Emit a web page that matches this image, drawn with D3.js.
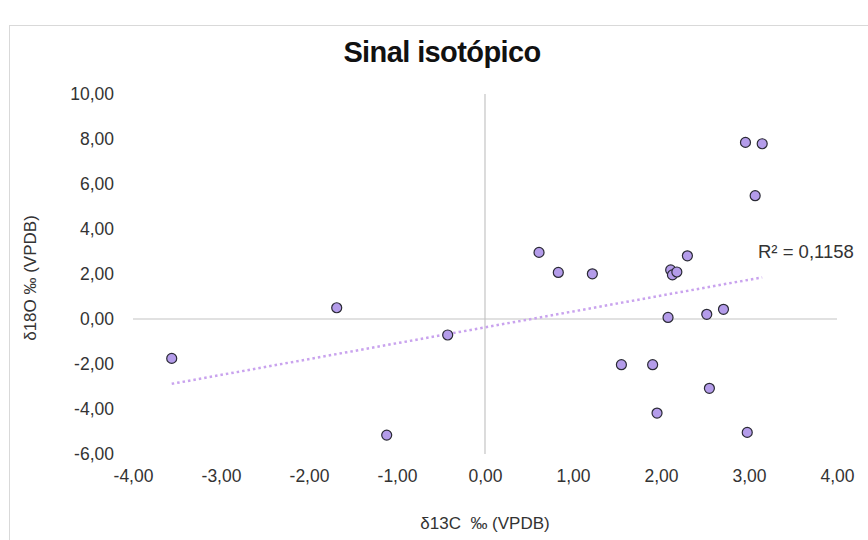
<!DOCTYPE html>
<html>
<head>
<meta charset="utf-8">
<script src="https://cdn.jsdelivr.net/npm/d3@7"></script>
<style>
  body { margin: 0; background: #fff; }
  text { font-family: "Liberation Sans", Arial, sans-serif; }
</style>
</head>
<body>
<div id="chart"></div>
<script>
// valores
const d13C = [-3.56, -1.685, -0.424, -1.117, 0.614, 0.833, 1.22, 2.30, 2.11, 2.13, 2.18,
  2.08, 2.52, 2.71, 1.55, 1.905, 2.55, 1.955, 2.98, 2.96, 3.15, 3.07];
const d18O = [-1.75, 0.50, -0.71, -5.16, 2.96, 2.07, 2.01, 2.81, 2.18, 1.96, 2.09,
  0.07, 0.21, 0.43, -2.03, -2.03, -3.08, -4.18, -5.04, 7.85, 7.79, 5.48];
const xTicks = [-4, -3, -2, -1, 0, 1, 2, 3, 4];
const yTicks = [-6, -4, -2, 0, 2, 4, 6, 8, 10];
const titulo = "Sinal isotópico";
const rLabel = "R² = 0,1158";

const width = 868, height = 540;
const svg = d3.select("#chart").append("svg")
  .attr("width", width).attr("height", height);

const pts = d13C.map((v, i) => ({ x: v, y: d18O[i] }));

const x = d3.scaleLinear().domain([-4, 4]).range([133, 837]);
const y = d3.scaleLinear().domain([-6, 10]).range([454, 94]);

const br = d3.formatLocale({ decimal: ",", thousands: ".", grouping: [3], currency: ["", ""], minus: "-" });
const fmt = br.format(".2f");

// moldura
svg.append("rect")
  .attr("x", 9.5).attr("y", 25.5)
  .attr("width", width + 20).attr("height", height + 20)
  .attr("fill", "none").attr("stroke", "#d9d9d9");

// titulo
svg.append("text")
  .attr("x", 442).attr("y", 62)
  .attr("text-anchor", "middle")
  .attr("font-size", 29).attr("font-weight", "bold")
  .attr("letter-spacing", -0.6)
  .attr("fill", "#111")
  .text(titulo);

// eixos (so rotulos)
const gy = svg.append("g")
  .attr("transform", `translate(${x.range()[0]},0)`)
  .call(d3.axisLeft(y).tickValues(yTicks).tickFormat(fmt).tickSize(0).tickPadding(19));
const gx = svg.append("g")
  .attr("transform", `translate(0,${y.range()[0]})`)
  .call(d3.axisBottom(x).tickValues(xTicks).tickFormat(fmt).tickSize(0).tickPadding(16));
[gx, gy].forEach(g => {
  g.select(".domain").remove();
  g.selectAll("text").attr("font-size", 17.5).attr("fill", "#333")
    .style("font-family", "'Liberation Sans', Arial, sans-serif");
});

// linhas do zero
svg.append("line")
  .attr("x1", x(-4)).attr("x2", x(4))
  .attr("y1", y(0)).attr("y2", y(0))
  .attr("stroke", "#c4c4c4").attr("stroke-width", 1.2);
svg.append("line")
  .attr("x1", x(0)).attr("x2", x(0))
  .attr("y1", y(10)).attr("y2", y(-6))
  .attr("stroke", "#c4c4c4").attr("stroke-width", 1.2);

// linha de tendencia (minimos quadrados)
const mx = d3.mean(pts, d => d.x), my = d3.mean(pts, d => d.y);
const slope = d3.sum(pts, d => (d.x - mx) * (d.y - my)) / d3.sum(pts, d => (d.x - mx) ** 2);
const icpt = my - slope * mx;
const [x0, x1] = d3.extent(pts, d => d.x);
svg.append("line")
  .attr("x1", x(x0)).attr("y1", y(icpt + slope * x0))
  .attr("x2", x(x1)).attr("y2", y(icpt + slope * x1))
  .attr("stroke", "#c9a3ee").attr("stroke-width", 2.5)
  .attr("stroke-dasharray", "2.5,3");

svg.append("text")
  .attr("x", 758).attr("y", 258)
  .attr("font-size", 18.5).attr("fill", "#333")
  .text(rLabel);

// pontos
svg.selectAll("circle.pt")
  .data(pts)
  .join("circle")
  .attr("class", "pt")
  .attr("cx", d => x(d.x))
  .attr("cy", d => y(d.y))
  .attr("r", 5)
  .attr("fill", "#b49cea")
  .attr("stroke", "#2a2a35")
  .attr("stroke-width", 1.2);

// titulos dos eixos
svg.append("text")
  .attr("x", 485).attr("y", 529)
  .attr("text-anchor", "middle")
  .attr("font-size", 17).attr("fill", "#333")
  .style("white-space", "pre")
  .text("δ13C  ‰ (VPDB)");
svg.append("text")
  .attr("transform", "translate(36,278) rotate(-90)")
  .attr("text-anchor", "middle")
  .attr("font-size", 17).attr("fill", "#333")
  .text("δ18O ‰ (VPDB)");
</script>
</body>
</html>
